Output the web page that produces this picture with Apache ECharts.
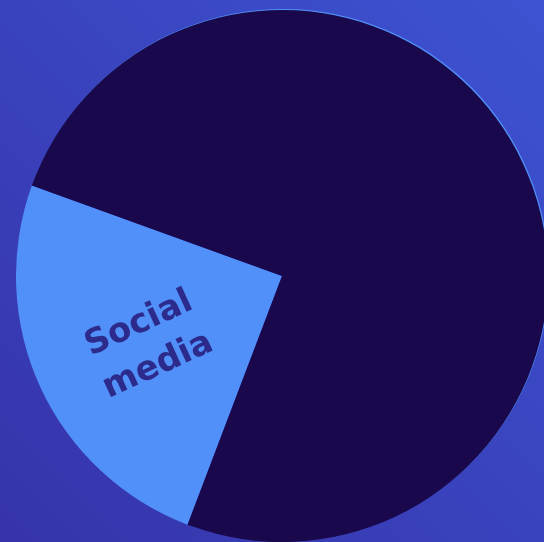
<!DOCTYPE html>
<html>
<head>
<meta charset="utf-8">
<script src="https://cdn.jsdelivr.net/npm/echarts@6/dist/echarts.min.js"></script>
<style>
  html, body { margin: 0; padding: 0; }
  #chart { width: 544px; height: 542px; }
</style>
</head>
<body>
<div id="chart"></div>
<script>
var categories = ['Social media', 'Other'];
var values = [24.75, 75.25];
var colors = ['#5190f8', '#1a084d'];

var chart = echarts.init(document.getElementById('chart'));
var option = {
  backgroundColor: {
    type: 'linear', x: 1, y: 0, x2: 0, y2: 1,
    colorStops: [
      { offset: 0, color: '#3d53d1' },
      { offset: 1, color: '#3633aa' }
    ]
  },
  series: [
    {
      type: 'pie',
      center: [282, 276],
      radius: [0, 266],
      startAngle: 249.2,
      clockwise: true,
      animation: false,
      label: {
        position: 'inside',
        rotate: 'radial',
        fontFamily: 'DejaVu Sans',
        fontWeight: 'bold',
        fontSize: 34,
        lineHeight: 46,
        color: '#2c2b8c',
        offset: [-14, 7],
        formatter: function (p) {
          return p.dataIndex === 0 ? 'Social\nmedia' : '';
        }
      },
      labelLine: { show: false },
      data: categories.map(function (c, i) {
        return {
          name: c,
          value: values[i],
          itemStyle: {
            color: colors[i],
            shadowColor: i === 1 ? '#5190f8' : 'transparent',
            shadowOffsetX: i === 1 ? 1 : 0,
            shadowOffsetY: i === 1 ? -1 : 0,
            shadowBlur: 0
          }
        };
      })
    }
  ]
};
chart.setOption(option);
window.onresize = function () {
  chart.resize();
};
</script>
</body>
</html>
